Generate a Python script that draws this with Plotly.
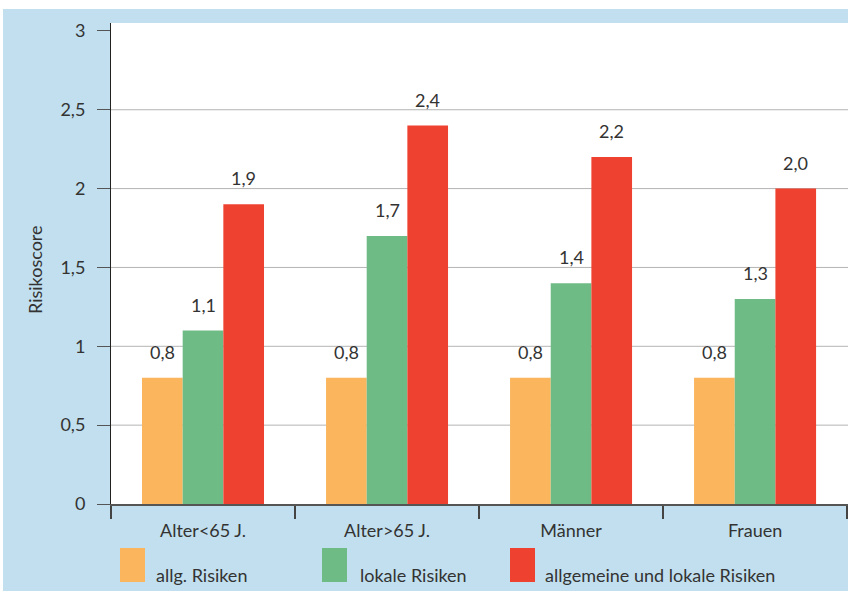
import plotly.graph_objects as go

# --- data -------------------------------------------------------------
categories = ["Alter<65 J.", "Alter>65 J.", "Männer", "Frauen"]
series_names = ["allg. Risiken", "lokale Risiken", "allgemeine und lokale Risiken"]
allg_risiken = [0.8, 0.8, 0.8, 0.8]
lokale_risiken = [1.1, 1.7, 1.4, 1.3]
allg_und_lokale = [1.9, 2.4, 2.2, 2.0]
y_ticks = [0, 0.5, 1, 1.5, 2, 2.5, 3]
grid_values = [0.5, 1, 1.5, 2, 2.5]

series_values = [allg_risiken, lokale_risiken, allg_und_lokale]
colors = ["#fbb55d", "#6fbb86", "#ef4130"]

# --- geometry (pixels) --------------------------------------------------
W, H = 848, 591
M_L, M_R, M_T, M_B = 111, 0, 23, 87
PLOT_W = W - M_L - M_R
PLOT_H = H - M_T - M_B
BARGAP = 0.337
X_RANGE = [-0.5, 3.505]

FONT = "Lato, 'Noto Sans', sans-serif"
TEXT_COLOR = "#333333"
BG_BLUE = "#c1dfee"


def px_x(p):
    """pixel x -> paper x"""
    return (p - M_L) / PLOT_W


def px_y(p):
    """pixel y -> paper y"""
    return (H - M_B - p) / PLOT_H


fig = go.Figure()
for name, vals, col in zip(series_names, series_values, colors):
    fig.add_trace(go.Bar(
        x=categories, y=vals, name=name,
        marker=dict(color=col, line=dict(width=0)),
        showlegend=False, hoverinfo="skip",
    ))

# value labels above each bar
cat_px = PLOT_W / (X_RANGE[1] - X_RANGE[0])
bar_px = cat_px * (1 - BARGAP) / len(series_values)
annotations = []
for i, vals in enumerate(series_values):
    for cat, v in zip(categories, vals):
        annotations.append(dict(
            x=cat, y=v, xref="x", yref="y",
            text=f"{v:.1f}".replace(".", ","),
            showarrow=False, xanchor="center", yanchor="bottom",
            xshift=(i - 1) * bar_px, yshift=13,
            font=dict(family=FONT, size=18, color=TEXT_COLOR),
        ))

# axis title
annotations.append(dict(
    x=px_x(35), y=px_y(270), xref="paper", yref="paper",
    text="Risikoscore", textangle=-90, showarrow=False,
    xanchor="center", yanchor="middle",
    font=dict(family=FONT, size=18, color=TEXT_COLOR),
))

# legend: colour patches with captions
legend_patch_x = [120, 322, 510]
legend_text_x = [154, 358, 543]
shapes = []
for name, col, rx, tx in zip(series_names, colors, legend_patch_x, legend_text_x):
    shapes.append(dict(
        type="rect", xref="paper", yref="paper",
        x0=px_x(rx), x1=px_x(rx + 25), y0=px_y(548), y1=px_y(582),
        fillcolor=col, line=dict(width=0), layer="above",
    ))
    annotations.append(dict(
        x=px_x(tx), y=px_y(588), xref="paper", yref="paper",
        text=name, showarrow=False, xanchor="left", yanchor="bottom",
        font=dict(family=FONT, size=18, color=TEXT_COLOR),
    ))

# horizontal grid lines behind the bars
for g in grid_values:
    shapes.append(dict(
        type="line", xref="paper", yref="y", x0=0, x1=1, y0=g, y1=g,
        line=dict(color="#b4b4b4", width=1), layer="below",
    ))

# white margin strips around the blue frame
shapes.append(dict(type="rect", xref="paper", yref="paper",
                   x0=px_x(-5), x1=px_x(W + 5), y0=px_y(9), y1=px_y(-5),
                   fillcolor="white", line=dict(width=0), layer="above"))
shapes.append(dict(type="rect", xref="paper", yref="paper",
                   x0=px_x(-5), x1=px_x(3), y0=px_y(H + 5), y1=px_y(-5),
                   fillcolor="white", line=dict(width=0), layer="above"))

fig.update_layout(
    width=W, height=H,
    margin=dict(l=M_L, r=M_R, t=M_T, b=M_B, pad=0),
    paper_bgcolor=BG_BLUE, plot_bgcolor="white",
    barmode="group", bargap=BARGAP, bargroupgap=0,
    separators=", ",
    font=dict(family=FONT, size=18, color=TEXT_COLOR),
    showlegend=False,
    shapes=shapes, annotations=annotations,
)
fig.update_xaxes(
    type="category", range=X_RANGE, tickson="boundaries",
    ticks="outside", ticklen=13, tickwidth=1.5, tickcolor="#444444",
    showline=True, linecolor="#555555", linewidth=1.5,
    showgrid=False, ticklabelstandoff=10,
    tickfont=dict(family=FONT, size=18, color=TEXT_COLOR),
)
fig.update_yaxes(
    range=[0, 3.05], tickvals=y_ticks,
    ticks="outside", ticklen=13, tickwidth=1, tickcolor="#555555",
    showline=True, linecolor="#222222", linewidth=1,
    showgrid=False, zeroline=False, ticklabelstandoff=8,
    tickfont=dict(family=FONT, size=18, color=TEXT_COLOR),
)

fig.write_html("out.html")
